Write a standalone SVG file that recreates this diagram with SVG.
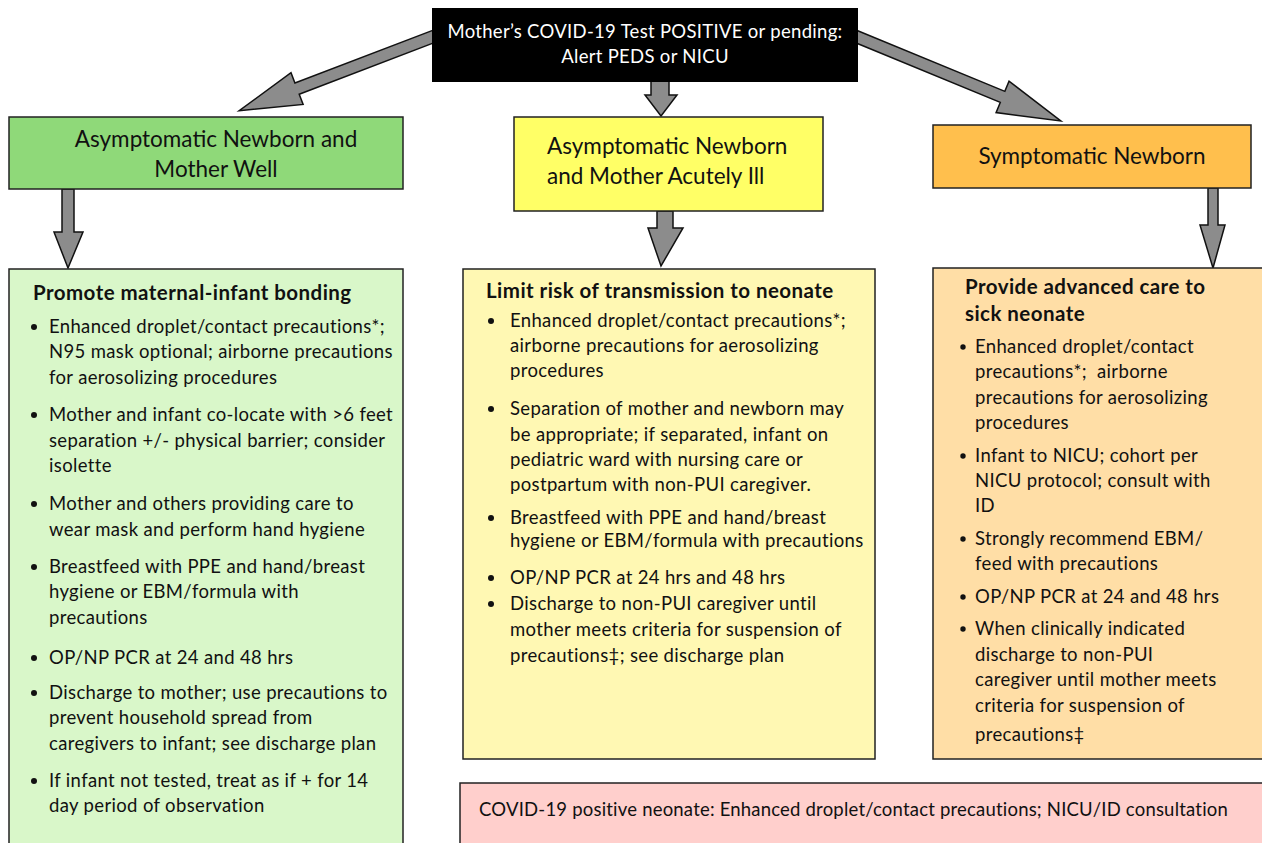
<svg xmlns="http://www.w3.org/2000/svg" width="1262" height="843" viewBox="0 0 1262 843">
<style>
.t{font-family:Lato,"Noto Sans","Liberation Sans",sans-serif;font-size:18.5px;letter-spacing:0.35px;fill:#111}
.b{font-weight:bold;font-size:20.5px;letter-spacing:0.45px}
.h{font-family:Lato,"Noto Sans","Liberation Sans",sans-serif;font-size:22.5px;fill:#111}
.w{fill:#fff;letter-spacing:0.3px}
.box{stroke:#222;stroke-width:1.5}
.arr{fill:#8c8c8c;stroke:#111;stroke-width:1.5;stroke-linejoin:miter}
</style>
<rect width="1262" height="843" fill="#fff"/>
<g id="connectors">
<polygon class="arr" transform="translate(440,34) rotate(159.1)" points="0,-6 153,-6 153,-17 215,0 153,17 153,6 0,6"/>
<polygon class="arr" transform="translate(850,34) rotate(22.4)" points="0,-6 165,-6 165,-17 228,0 165,17 165,6 0,6"/>
<polygon class="arr" points="651,80 669,80 669,95 677,95 661,116 645,95 651,95"/>
<polygon class="arr" points="62,189 74,189 74,232 83,232 68,268 54,232 62,232"/>
<polygon class="arr" points="657,211 673,211 673,228 683,228 661,266 648,228 657,228"/>
<polygon class="arr" points="1208,188 1218,188 1218,225 1225,225 1213,268 1200,225 1208,225"/>
</g>
<g id="top">
<rect x="432" y="8" width="426" height="74" fill="#000"/>
<text class="t w" x="645" y="38" text-anchor="middle">Mother’s COVID-19 Test POSITIVE or pending:</text>
<text class="t w" x="645" y="63" text-anchor="middle">Alert PEDS or NICU</text>
</g>
<g id="hdr-left">
<rect class="box" x="9" y="117" width="394" height="72" fill="#8fd979"/>
<text class="h" x="216" y="147" text-anchor="middle">Asymptomatic Newborn and</text>
<text class="h" x="216" y="177" text-anchor="middle">Mother Well</text>
</g>
<g id="hdr-mid">
<rect class="box" x="514" y="117" width="309" height="94" fill="#ffff66"/>
<text class="h" x="547" y="154">Asymptomatic Newborn</text>
<text class="h" x="547" y="184">and Mother Acutely Ill</text>
</g>
<g id="hdr-right">
<rect class="box" x="933" y="125" width="318" height="63" fill="#ffbf4d"/>
<text class="h" x="1092" y="164" text-anchor="middle">Symptomatic Newborn</text>
</g>
<g id="box-left">
<rect class="box" x="9" y="269" width="394" height="590" fill="#d9f7c9"/>
<text class="t b" x="33" y="300">Promote maternal-infant bonding</text>
<g fill="#111">
<circle cx="34" cy="327" r="3"/><circle cx="34" cy="415" r="3"/><circle cx="34" cy="504" r="3"/><circle cx="34" cy="567" r="3"/><circle cx="34" cy="658" r="3"/><circle cx="34" cy="693" r="3"/><circle cx="34" cy="781" r="3"/>
</g>
<text class="t" x="49" y="333">Enhanced droplet/contact precautions*;</text>
<text class="t" x="49" y="358">N95 mask optional; airborne precautions</text>
<text class="t" x="49" y="384">for aerosolizing procedures</text>
<text class="t" x="49" y="421">Mother and infant co-locate with &gt;6 feet</text>
<text class="t" x="49" y="447">separation +/- physical barrier; consider</text>
<text class="t" x="49" y="472">isolette</text>
<text class="t" x="49" y="510">Mother and others providing care to</text>
<text class="t" x="49" y="536">wear mask and perform hand hygiene</text>
<text class="t" x="49" y="573">Breastfeed with PPE and hand/breast</text>
<text class="t" x="49" y="598">hygiene or EBM/formula with</text>
<text class="t" x="49" y="624">precautions</text>
<text class="t" x="49" y="664">OP/NP PCR at 24 and 48 hrs</text>
<text class="t" x="49" y="699">Discharge to mother; use precautions to</text>
<text class="t" x="49" y="724">prevent household spread from</text>
<text class="t" x="49" y="750">caregivers to infant; see discharge plan</text>
<text class="t" x="49" y="787">If infant not tested, treat as if + for 14</text>
<text class="t" x="49" y="812">day period of observation</text>
</g>
<g id="box-mid">
<rect class="box" x="463" y="269" width="412" height="490" fill="#fff8b3"/>
<text class="t b" x="486" y="298">Limit risk of transmission to neonate</text>
<g fill="#111">
<circle cx="491" cy="321" r="3"/><circle cx="491" cy="409" r="3"/><circle cx="491" cy="518" r="3"/><circle cx="491" cy="578" r="3"/><circle cx="491" cy="604" r="3"/>
</g>
<text class="t" x="510" y="327">Enhanced droplet/contact precautions*;</text>
<text class="t" x="510" y="352">airborne precautions for aerosolizing</text>
<text class="t" x="510" y="377">procedures</text>
<text class="t" x="510" y="415">Separation of mother and newborn may</text>
<text class="t" x="510" y="441">be appropriate; if separated, infant on</text>
<text class="t" x="510" y="466">pediatric ward with nursing care or</text>
<text class="t" x="510" y="491">postpartum with non-PUI caregiver.</text>
<text class="t" x="510" y="524">Breastfeed with PPE and hand/breast</text>
<text class="t" x="510" y="547">hygiene or EBM/formula with precautions</text>
<text class="t" x="510" y="584">OP/NP PCR at 24 hrs and 48 hrs</text>
<text class="t" x="510" y="610">Discharge to non-PUI caregiver until</text>
<text class="t" x="510" y="636">mother meets criteria for suspension of</text>
<text class="t" x="510" y="662">precautions‡; see discharge plan</text>
</g>
<g id="box-right">
<rect class="box" x="933" y="268" width="340" height="491" fill="#ffdea6"/>
<text class="t b" x="965" y="294">Provide advanced care to</text>
<text class="t b" x="965" y="321">sick neonate</text>
<g fill="#111">
<circle cx="963" cy="347" r="2.7"/><circle cx="963" cy="456" r="2.7"/><circle cx="963" cy="539" r="2.7"/><circle cx="963" cy="597" r="2.7"/><circle cx="963" cy="629" r="2.7"/>
</g>
<text class="t" x="975" y="353">Enhanced droplet/contact</text>
<text class="t" x="975" y="378" xml:space="preserve">precautions*;  airborne</text>
<text class="t" x="975" y="404">precautions for aerosolizing</text>
<text class="t" x="975" y="429">procedures</text>
<text class="t" x="975" y="462">Infant to NICU; cohort per</text>
<text class="t" x="975" y="487">NICU protocol; consult with</text>
<text class="t" x="975" y="512">ID</text>
<text class="t" x="975" y="545">Strongly recommend EBM/</text>
<text class="t" x="975" y="570">feed with precautions</text>
<text class="t" x="975" y="603">OP/NP PCR at 24 and 48 hrs</text>
<text class="t" x="975" y="635">When clinically indicated</text>
<text class="t" x="975" y="661">discharge to non-PUI</text>
<text class="t" x="975" y="686">caregiver until mother meets</text>
<text class="t" x="975" y="712">criteria for suspension of</text>
<text class="t" x="975" y="741">precautions‡</text>
</g>
<g id="box-bottom">
<rect class="box" x="460" y="783" width="820" height="80" fill="#ffcfcc"/>
<text class="t" x="479" y="816" style="letter-spacing:0.2px">COVID-19 positive neonate: Enhanced droplet/contact precautions; NICU/ID consultation</text>
</g>
</svg>
